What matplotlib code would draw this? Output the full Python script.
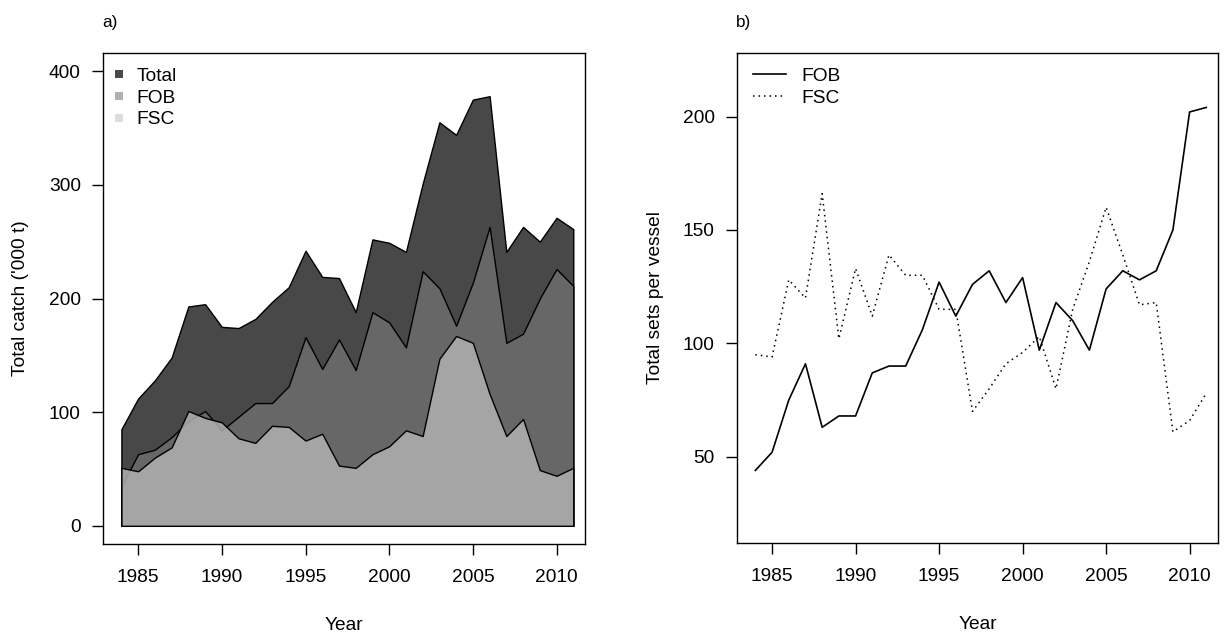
import matplotlib
matplotlib.use("Agg")
import matplotlib.pyplot as plt
from matplotlib.lines import Line2D
import numpy as np

plt.rcParams['font.family'] = ['Liberation Sans', 'DejaVu Sans']

years = list(range(1984, 2012))

# Panel a) total catch ('000 t)
catch_total = [85, 112, 128, 148, 193, 195, 175, 174, 182, 197, 210, 242, 219, 218,
               188, 252, 249, 241, 301, 355, 344, 375, 378, 241, 263, 250, 271, 261]
catch_fob = [35, 63, 67, 78, 92, 101, 84, 96, 108, 108, 123, 166, 138, 164,
             137, 188, 179, 157, 224, 209, 176, 214, 263, 161, 169, 200, 226, 211]
catch_fsc = [51, 48, 60, 69, 101, 95, 91, 77, 73, 88, 87, 75, 81, 53,
             51, 63, 70, 84, 79, 147, 167, 161, 116, 79, 94, 49, 44, 51]

# Panel b) total sets per vessel
sets_fob = [44, 52, 75, 91, 63, 68, 68, 87, 90, 90, 106, 127, 112, 126,
            132, 118, 129, 97, 118, 110, 97, 124, 132, 128, 132, 150, 202, 204]
sets_fsc = [95, 94, 128, 120, 166, 102, 133, 112, 139, 130, 130, 115, 115, 70,
            80, 91, 96, 103, 80, 115, 136, 160, 139, 117, 118, 61, 66, 78]

xticks = [1985, 1990, 1995, 2000, 2005, 2010]
yticks_a = [0, 100, 200, 300, 400]
yticks_b = [50, 100, 150, 200]

W, H = 1225, 637
fig = plt.figure(figsize=(W / 100, H / 100), dpi=100)

def frac(x0, y0, x1, y1):
    return [x0 / W, 1 - y1 / H, (x1 - x0) / W, (y1 - y0) / H]

ax1 = fig.add_axes(frac(103, 53, 585, 544))
ax2 = fig.add_axes(frac(737, 53, 1218, 543))

FS = 13.8
DOT = (0, (1, 2.6))

def style(ax):
    for s in ax.spines.values():
        s.set_linewidth(1.0)
        s.set_color('black')
    ax.tick_params(axis='both', direction='out', length=8, width=1.0,
                   labelsize=FS, colors='black')
    ax.tick_params(axis='x', pad=10)
    ax.tick_params(axis='y', pad=8)
    ax.set_xlim(1982.9, 2011.7)
    ax.set_xticks(xticks)
    ax.set_xticklabels([str(t) for t in xticks])
    ax.set_xlabel('Year', fontsize=FS)
    ax.xaxis.set_label_coords(0.5, -0.167)
    ax.xaxis.label.set_va('center')

# ---- Panel a
ax1.fill_between(years, 0, catch_total, facecolor='#484848', edgecolor='black', linewidth=1.0, zorder=1)
ax1.fill_between(years, 0, catch_fob, facecolor='#676767', edgecolor='black', linewidth=1.0, zorder=2)
ax1.fill_between(years, 0, catch_fsc, facecolor=(176/255, 176/255, 176/255, 0.86),
                 edgecolor='black', linewidth=1.0, zorder=3)
style(ax1)
ax1.set_ylim(-16, 416)
ax1.set_yticks(yticks_a)
ax1.set_yticklabels([str(t) for t in yticks_a])
ax1.set_ylabel("Total catch ('000 t)", fontsize=FS)
ax1.yaxis.set_label_coords(-0.172, 0.5)
ax1.yaxis.label.set_va('center')

h1 = [Line2D([], [], marker='s', linestyle='none', markersize=6.2, color=c, markeredgewidth=0)
      for c in ['#4a4a4a', '#b0b0b0', '#dddddd']]
ax1.legend(h1, ['Total', 'FOB', 'FSC'], loc='upper left', bbox_to_anchor=(0.018, 0.970),
           frameon=False, fontsize=FS, handlelength=0.8, handletextpad=0.5,
           labelspacing=0.22, borderpad=0, borderaxespad=0)

# ---- Panel b
ax2.plot(years, sets_fob, color='black', linewidth=1.2, linestyle='-')
ax2.plot(years, sets_fsc, color='black', linewidth=1.1, linestyle=DOT)
style(ax2)
ax2.set_ylim(12, 228)
ax2.set_yticks(yticks_b)
ax2.set_yticklabels([str(t) for t in yticks_b])
ax2.set_ylabel('Total sets per vessel', fontsize=FS)
ax2.yaxis.set_label_coords(-0.17, 0.5)
ax2.yaxis.label.set_va('center')

h2 = [Line2D([], [], color='black', linewidth=1.2, linestyle='-'),
      Line2D([], [], color='black', linewidth=1.1, linestyle=DOT)]
ax2.legend(h2, ['FOB', 'FSC'], loc='upper left', bbox_to_anchor=(0.033, 0.970),
           frameon=False, fontsize=FS, handlelength=1.75, handletextpad=0.8,
           labelspacing=0.22, borderpad=0, borderaxespad=0)

fig.text(102 / W, 1 - 22 / H, 'a)', fontsize=FS - 1.5, ha='left', va='center')
fig.text(736 / W, 1 - 22 / H, 'b)', fontsize=FS - 1.5, ha='left', va='center')

fig.savefig('out.png', dpi=100)
